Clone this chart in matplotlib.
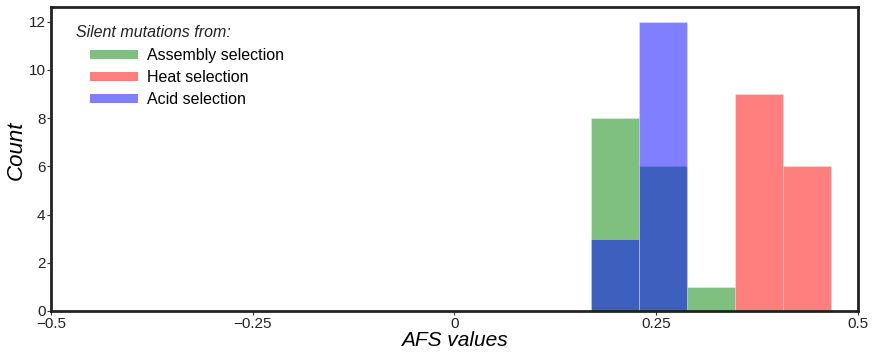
import matplotlib
matplotlib.use("Agg")
import matplotlib.pyplot as plt
from matplotlib.patches import Patch

plt.rcParams['font.family'] = ['Liberation Sans', 'DejaVu Sans']

# Histogram bin edges shared by all three series
bin_edges = [0.169, 0.229, 0.288, 0.348, 0.407, 0.467]

# Counts per bin for each selection
assembly_counts = [8, 6, 1, 0, 0]
heat_counts = [0, 0, 0, 9, 6]
acid_counts = [3, 12, 0, 0, 0]

series_labels = ["Assembly selection", "Heat selection", "Acid selection"]
series_colors = ["green", "red", "blue"]
legend_title = "Silent mutations from:"

fig = plt.figure(figsize=(8.72, 3.55), dpi=100)
ax = fig.add_axes([0.0585, 0.124, 0.925, 0.856])

lefts = bin_edges[:-1]
widths = [b - a for a, b in zip(bin_edges[:-1], bin_edges[1:])]
for counts, color in zip([assembly_counts, heat_counts, acid_counts], series_colors):
    ax.bar(lefts, counts, width=widths, align='edge', color=color, alpha=0.5,
           edgecolor='white', linewidth=0.4)

ax.set_xlim(-0.5, 0.5)
ax.set_ylim(0, 12.6)
ax.set_xticks([-0.5, -0.25, 0, 0.25, 0.5])
ax.set_xticklabels(["\u22120.5", "\u22120.25", "0", "0.25", "0.5"])
ax.set_yticks([0, 2, 4, 6, 8, 10, 12])

for s in ax.spines.values():
    s.set_linewidth(2)
    s.set_color('#222222')
ax.tick_params(axis='both', labelsize=11, length=3, width=0.8, color='#333333',
               pad=1, labelcolor='#222222')

ax.set_xlabel("AFS values", fontsize=15, style='italic', labelpad=0)
ax.set_ylabel("Count", fontsize=16, style='italic')
ax.yaxis.set_label_coords(-0.030, 0.53)

# Legend: italic heading with indented entries beneath it
ax.text(0.031, 0.918, legend_title, transform=ax.transAxes, fontsize=11.5,
        style='italic', ha='left', va='center', color='#222222')
handles = [Patch(facecolor=c, alpha=0.5, edgecolor='none') for c in series_colors]
leg = ax.legend(handles, series_labels, loc='upper left',
                bbox_to_anchor=(0.0483, 0.866), frameon=False,
                fontsize=11.5, handlelength=3.0, handleheight=0.5,
                handletextpad=0.55, labelspacing=0.45, borderpad=0,
                borderaxespad=0)

fig.savefig("out.png", dpi=100)
